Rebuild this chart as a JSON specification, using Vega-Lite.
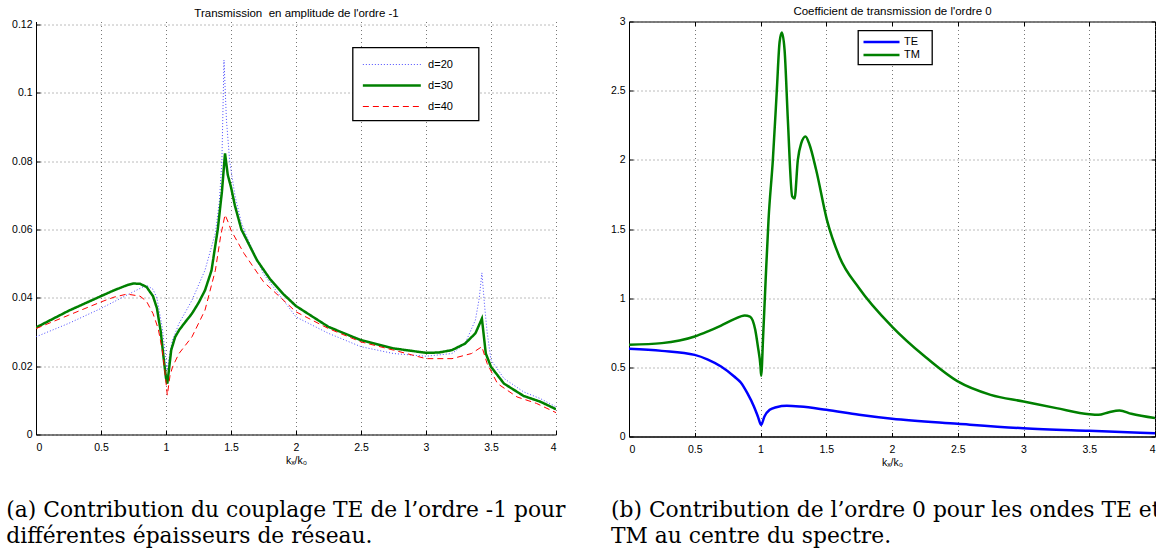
{
  "$schema": "https://vega.github.io/schema/vega-lite/v6.json",
  "padding": {"left": 6, "top": 4.5, "right": 0, "bottom": 0},
  "background": "white",
  "bounds": "flush",
  "spacing": 73,
  "resolve": {
    "scale": {"color": "independent", "strokeDash": "independent", "strokeWidth": "independent"},
    "legend": {"color": "independent", "strokeDash": "independent", "strokeWidth": "independent"}
  },
  "config": {
    "view": {"stroke": null},
    "axis": {
      "labelFont": "Liberation Sans", "labelFontSize": 10.5, "labelColor": "#000",
      "titleFont": "Liberation Sans", "titleFontSize": 10.5, "titleFontWeight": "normal", "titleColor": "#000",
      "domainColor": "#000", "domainWidth": 1, "tickColor": "#000", "tickSize": -4, "tickWidth": 1,
      "gridColor": "#555", "gridDash": [1, 3], "gridOpacity": 1, "gridWidth": 0.8
    },
    "axisX": {"labelPadding": 12},
    "axisY": {"labelPadding": 8},
    "legend": {
      "strokeColor": "#000", "strokeWidth": 1.3, "fillColor": "white",
      "labelFont": "Liberation Sans", "labelFontSize": 11, "labelColor": "#000",
      "title": null
    },
    "title": {"fontWeight": "normal", "color": "#000"}
  },
  "datasets": {
    "left": [
      {"k":0,"v":0.0286,"d":"d=20"},{"k":0.25,"v":0.0325,"d":"d=20"},{"k":0.5,"v":0.0369,"d":"d=20"},{"k":0.75,"v":0.0418,"d":"d=20"},{"k":0.85,"v":0.0437,"d":"d=20"},{"k":0.9,"v":0.0425,"d":"d=20"},{"k":0.93,"v":0.040,"d":"d=20"},{"k":0.97,"v":0.0315,"d":"d=20"},{"k":1.0,"v":0.022,"d":"d=20"},{"k":1.01,"v":0.0188,"d":"d=20"},{"k":1.03,"v":0.024,"d":"d=20"},{"k":1.05,"v":0.0276,"d":"d=20"},{"k":1.1,"v":0.0325,"d":"d=20"},{"k":1.2,"v":0.0393,"d":"d=20"},{"k":1.3,"v":0.0481,"d":"d=20"},{"k":1.38,"v":0.059,"d":"d=20"},{"k":1.41,"v":0.068,"d":"d=20"},{"k":1.43,"v":0.08,"d":"d=20"},{"k":1.446,"v":0.1096,"d":"d=20"},{"k":1.465,"v":0.092,"d":"d=20"},{"k":1.49,"v":0.08,"d":"d=20"},{"k":1.53,"v":0.07,"d":"d=20"},{"k":1.58,"v":0.062,"d":"d=20"},{"k":1.62,"v":0.058,"d":"d=20"},{"k":1.75,"v":0.047,"d":"d=20"},{"k":2.0,"v":0.0344,"d":"d=20"},{"k":2.25,"v":0.0296,"d":"d=20"},{"k":2.5,"v":0.0257,"d":"d=20"},{"k":2.75,"v":0.0237,"d":"d=20"},{"k":3.0,"v":0.0229,"d":"d=20"},{"k":3.2,"v":0.0237,"d":"d=20"},{"k":3.3,"v":0.0266,"d":"d=20"},{"k":3.38,"v":0.0335,"d":"d=20"},{"k":3.41,"v":0.040,"d":"d=20"},{"k":3.43,"v":0.0473,"d":"d=20"},{"k":3.45,"v":0.038,"d":"d=20"},{"k":3.47,"v":0.030,"d":"d=20"},{"k":3.5,"v":0.0218,"d":"d=20"},{"k":3.6,"v":0.0164,"d":"d=20"},{"k":3.75,"v":0.0125,"d":"d=20"},{"k":3.88,"v":0.0105,"d":"d=20"},{"k":4.0,"v":0.0081,"d":"d=20"},
      {"k":0,"v":0.0313,"d":"d=30"},{"k":0.25,"v":0.0362,"d":"d=30"},{"k":0.5,"v":0.0405,"d":"d=30"},{"k":0.6,"v":0.0422,"d":"d=30"},{"k":0.7,"v":0.0437,"d":"d=30"},{"k":0.75,"v":0.0442,"d":"d=30"},{"k":0.8,"v":0.0441,"d":"d=30"},{"k":0.85,"v":0.0432,"d":"d=30"},{"k":0.9,"v":0.0405,"d":"d=30"},{"k":0.93,"v":0.037,"d":"d=30"},{"k":0.96,"v":0.030,"d":"d=30"},{"k":0.98,"v":0.023,"d":"d=30"},{"k":1.0,"v":0.0165,"d":"d=30"},{"k":1.01,"v":0.0149,"d":"d=30"},{"k":1.02,"v":0.018,"d":"d=30"},{"k":1.04,"v":0.0247,"d":"d=30"},{"k":1.07,"v":0.0285,"d":"d=30"},{"k":1.1,"v":0.0305,"d":"d=30"},{"k":1.15,"v":0.033,"d":"d=30"},{"k":1.2,"v":0.0354,"d":"d=30"},{"k":1.25,"v":0.0385,"d":"d=30"},{"k":1.3,"v":0.0422,"d":"d=30"},{"k":1.35,"v":0.048,"d":"d=30"},{"k":1.398,"v":0.06,"d":"d=30"},{"k":1.43,"v":0.071,"d":"d=30"},{"k":1.454,"v":0.0823,"d":"d=30"},{"k":1.475,"v":0.076,"d":"d=30"},{"k":1.5,"v":0.0724,"d":"d=30"},{"k":1.53,"v":0.067,"d":"d=30"},{"k":1.58,"v":0.06,"d":"d=30"},{"k":1.7,"v":0.051,"d":"d=30"},{"k":1.8,"v":0.0455,"d":"d=30"},{"k":1.9,"v":0.0412,"d":"d=30"},{"k":2.0,"v":0.0376,"d":"d=30"},{"k":2.25,"v":0.0315,"d":"d=30"},{"k":2.5,"v":0.0276,"d":"d=30"},{"k":2.75,"v":0.0252,"d":"d=30"},{"k":3.0,"v":0.0239,"d":"d=30"},{"k":3.1,"v":0.024,"d":"d=30"},{"k":3.2,"v":0.0247,"d":"d=30"},{"k":3.3,"v":0.0266,"d":"d=30"},{"k":3.38,"v":0.0296,"d":"d=30"},{"k":3.43,"v":0.0339,"d":"d=30"},{"k":3.46,"v":0.0237,"d":"d=30"},{"k":3.5,"v":0.0198,"d":"d=30"},{"k":3.6,"v":0.0149,"d":"d=30"},{"k":3.75,"v":0.0113,"d":"d=30"},{"k":3.88,"v":0.0096,"d":"d=30"},{"k":4.0,"v":0.0074,"d":"d=30"},
      {"k":0,"v":0.031,"d":"d=40"},{"k":0.25,"v":0.0349,"d":"d=40"},{"k":0.5,"v":0.0388,"d":"d=40"},{"k":0.6,"v":0.0402,"d":"d=40"},{"k":0.7,"v":0.0411,"d":"d=40"},{"k":0.8,"v":0.0405,"d":"d=40"},{"k":0.85,"v":0.039,"d":"d=40"},{"k":0.9,"v":0.0354,"d":"d=40"},{"k":0.94,"v":0.031,"d":"d=40"},{"k":0.97,"v":0.025,"d":"d=40"},{"k":0.99,"v":0.019,"d":"d=40"},{"k":1.01,"v":0.0115,"d":"d=40"},{"k":1.03,"v":0.017,"d":"d=40"},{"k":1.05,"v":0.0198,"d":"d=40"},{"k":1.1,"v":0.0237,"d":"d=40"},{"k":1.2,"v":0.0286,"d":"d=40"},{"k":1.3,"v":0.0364,"d":"d=40"},{"k":1.38,"v":0.0481,"d":"d=40"},{"k":1.42,"v":0.058,"d":"d=40"},{"k":1.454,"v":0.0643,"d":"d=40"},{"k":1.48,"v":0.062,"d":"d=40"},{"k":1.5,"v":0.0598,"d":"d=40"},{"k":1.6,"v":0.053,"d":"d=40"},{"k":1.75,"v":0.0447,"d":"d=40"},{"k":2.0,"v":0.0359,"d":"d=40"},{"k":2.25,"v":0.031,"d":"d=40"},{"k":2.5,"v":0.0271,"d":"d=40"},{"k":2.75,"v":0.0247,"d":"d=40"},{"k":3.0,"v":0.0222,"d":"d=40"},{"k":3.2,"v":0.0222,"d":"d=40"},{"k":3.35,"v":0.0237,"d":"d=40"},{"k":3.43,"v":0.0257,"d":"d=40"},{"k":3.47,"v":0.0208,"d":"d=40"},{"k":3.55,"v":0.0149,"d":"d=40"},{"k":3.7,"v":0.011,"d":"d=40"},{"k":3.85,"v":0.0091,"d":"d=40"},{"k":4.0,"v":0.0064,"d":"d=40"}
    ],
    "right": [
      {"k":0,"v":0.634,"m":"TE"},{"k":0.25,"v":0.619,"m":"TE"},{"k":0.5,"v":0.59,"m":"TE"},{"k":0.6,"v":0.556,"m":"TE"},{"k":0.7,"v":0.506,"m":"TE"},{"k":0.8,"v":0.434,"m":"TE"},{"k":0.85,"v":0.39,"m":"TE"},{"k":0.9,"v":0.313,"m":"TE"},{"k":0.95,"v":0.217,"m":"TE"},{"k":0.98,"v":0.145,"m":"TE"},{"k":1.005,"v":0.084,"m":"TE"},{"k":1.03,"v":0.145,"m":"TE"},{"k":1.07,"v":0.193,"m":"TE"},{"k":1.12,"v":0.212,"m":"TE"},{"k":1.2,"v":0.222,"m":"TE"},{"k":1.3,"v":0.217,"m":"TE"},{"k":1.5,"v":0.193,"m":"TE"},{"k":1.75,"v":0.157,"m":"TE"},{"k":2.0,"v":0.128,"m":"TE"},{"k":2.5,"v":0.092,"m":"TE"},{"k":3.0,"v":0.06,"m":"TE"},{"k":3.5,"v":0.041,"m":"TE"},{"k":4.0,"v":0.024,"m":"TE"},
      {"k":0,"v":0.663,"m":"TM"},{"k":0.25,"v":0.675,"m":"TM"},{"k":0.5,"v":0.723,"m":"TM"},{"k":0.6,"v":0.76,"m":"TM"},{"k":0.7,"v":0.802,"m":"TM"},{"k":0.8,"v":0.848,"m":"TM"},{"k":0.88,"v":0.875,"m":"TM"},{"k":0.92,"v":0.867,"m":"TM"},{"k":0.96,"v":0.771,"m":"TM"},{"k":0.98,"v":0.651,"m":"TM"},{"k":1.0,"v":0.506,"m":"TM"},{"k":1.005,"v":0.439,"m":"TM"},{"k":1.02,"v":0.723,"m":"TM"},{"k":1.04,"v":1.15,"m":"TM"},{"k":1.061,"v":1.566,"m":"TM"},{"k":1.094,"v":2.0,"m":"TM"},{"k":1.124,"v":2.5,"m":"TM"},{"k":1.145,"v":2.85,"m":"TM"},{"k":1.162,"v":2.92,"m":"TM"},{"k":1.183,"v":2.795,"m":"TM"},{"k":1.208,"v":2.29,"m":"TM"},{"k":1.241,"v":1.735,"m":"TM"},{"k":1.259,"v":1.72,"m":"TM"},{"k":1.284,"v":2.0,"m":"TM"},{"k":1.31,"v":2.12,"m":"TM"},{"k":1.342,"v":2.169,"m":"TM"},{"k":1.373,"v":2.109,"m":"TM"},{"k":1.423,"v":1.928,"m":"TM"},{"k":1.505,"v":1.566,"m":"TM"},{"k":1.6,"v":1.3,"m":"TM"},{"k":1.75,"v":1.072,"m":"TM"},{"k":2.0,"v":0.795,"m":"TM"},{"k":2.25,"v":0.578,"m":"TM"},{"k":2.5,"v":0.398,"m":"TM"},{"k":2.75,"v":0.301,"m":"TM"},{"k":3.0,"v":0.253,"m":"TM"},{"k":3.25,"v":0.205,"m":"TM"},{"k":3.5,"v":0.161,"m":"TM"},{"k":3.57,"v":0.157,"m":"TM"},{"k":3.65,"v":0.176,"m":"TM"},{"k":3.73,"v":0.188,"m":"TM"},{"k":3.82,"v":0.164,"m":"TM"},{"k":4.0,"v":0.133,"m":"TM"}
    ]
  },
  "hconcat": [
    {
      "width": 520,
      "height": 413,
      "view": {"stroke": null},
      "data": {"name": "left"},
      "title": {
        "text": ["(a) Contribution du couplage TE de l’ordre -1 pour", "différentes épaisseurs de réseau."],
        "orient": "bottom", "anchor": "start", "frame": "group", "dx": -29.7, "offset": 34,
        "font": "DejaVu Serif", "fontSize": 21.8, "lineHeight": 26
      },
      "layer": [
        {
          "mark": {"type": "line", "clip": true},
          "encoding": {
            "x": {"field": "k", "type": "quantitative", "scale": {"domain": [0, 4], "nice": false},
                  "axis": {"values": [0, 0.5, 1, 1.5, 2, 2.5, 3, 3.5, 4], "format": "~g", "title": "kₓ/k₀", "titlePadding": 2}},
            "y": {"field": "v", "type": "quantitative", "scale": {"domain": [0, 0.12088], "nice": false, "zero": true},
                  "axis": {"values": [0, 0.02, 0.04, 0.06, 0.08, 0.1, 0.12], "format": "~g", "title": null}},
            "color": {"field": "d", "type": "nominal", "scale": {"domain": ["d=20", "d=30", "d=40"], "range": ["#3a3aff", "#008000", "#ff0000"]},
                      "legend": {"orient": "none", "legendX": 316.6, "legendY": 26, "padding": 9, "rowPadding": 7.5, "labelOffset": 49.5,
                                 "symbolType": "M-1,0H7", "symbolSize": 210, "labelExpr": "datum.label + '\u2800\u2800'"}},
            "strokeDash": {"field": "d", "type": "nominal", "scale": {"type": "ordinal", "domain": ["d=20", "d=30", "d=40"], "range": [[1, 2], [1, 0], [6, 4]]},
                      "legend": {"orient": "none", "legendX": 316.6, "legendY": 26, "padding": 9, "rowPadding": 7.5, "labelOffset": 49.5,
                                 "symbolType": "M-1,0H7", "symbolSize": 210, "labelExpr": "datum.label + '\u2800\u2800'"}},
            "strokeWidth": {"field": "d", "type": "nominal", "scale": {"type": "ordinal", "domain": ["d=20", "d=30", "d=40"], "range": [0.9, 2.5, 1]},
                      "legend": {"orient": "none", "legendX": 316.6, "legendY": 26, "padding": 9, "rowPadding": 7.5, "labelOffset": 49.5,
                                 "symbolType": "M-1,0H7", "symbolSize": 210, "labelExpr": "datum.label + '\u2800\u2800'"}}
          }
        },
        {
          "mark": {"type": "line", "opacity": 0},
          "encoding": {
            "x": {"field": "k", "type": "quantitative",
                  "axis": {"orient": "top", "title": "Transmission\u00a0 en amplitude de l'ordre -1", "labels": false, "ticks": false, "domain": false, "grid": false, "titleFontSize": 11.5, "titlePadding": 3}},
            "detail": {"field": "d"}
          }
        }
      ],
      "resolve": {"axis": {"x": "independent"}}
    },
    {
      "width": 526,
      "height": 415,
      "view": {"stroke": "#000", "strokeWidth": 1},
      "data": {"name": "right"},
      "title": {
        "text": ["(b) Contribution de l’ordre 0 pour les ondes TE et", "TM au centre du spectre."],
        "orient": "bottom", "anchor": "start", "frame": "group", "dx": -18, "offset": 32,
        "font": "DejaVu Serif", "fontSize": 21.8, "lineHeight": 26
      },
      "layer": [
        {
          "mark": {"type": "line", "clip": true, "strokeWidth": 2.5, "interpolate": "monotone"},
          "encoding": {
            "x": {"field": "k", "type": "quantitative", "scale": {"domain": [0, 4], "nice": false},
                  "axis": {"values": [0, 0.5, 1, 1.5, 2, 2.5, 3, 3.5, 4], "format": "~g", "title": "kₓ/k₀", "titlePadding": 2}},
            "y": {"field": "v", "type": "quantitative", "scale": {"domain": [0, 3], "nice": false},
                  "axis": {"values": [0, 0.5, 1, 1.5, 2, 2.5, 3], "format": "~g", "title": null}},
            "color": {"field": "m", "type": "nominal", "scale": {"domain": ["TE", "TM"], "range": ["#0000ff", "#008000"]},
                      "legend": {"orient": "none", "legendX": 229, "legendY": 9, "padding": 4, "rowPadding": -0.5, "labelOffset": 27,
                                 "symbolType": "M-1,0H5", "symbolSize": 144, "symbolStrokeWidth": 2.5, "labelExpr": "datum.label + '\u2800'"}}
          }
        },
        {
          "mark": {"type": "line", "opacity": 0},
          "encoding": {
            "x": {"field": "k", "type": "quantitative",
                  "axis": {"orient": "top", "values": [0, 0.5, 1, 1.5, 2, 2.5, 3, 3.5, 4], "title": "Coefficient de transmission de l'ordre 0", "labels": false, "domain": false, "grid": false, "titleFontSize": 11.5, "titlePadding": 5}},
            "y": {"field": "v", "type": "quantitative",
                  "axis": {"orient": "right", "values": [0, 0.5, 1, 1.5, 2, 2.5, 3], "title": null, "labels": false, "domain": false, "grid": false}},
            "detail": {"field": "m"}
          }
        }
      ],
      "resolve": {"axis": {"x": "independent", "y": "independent"}}
    }
  ]
}
